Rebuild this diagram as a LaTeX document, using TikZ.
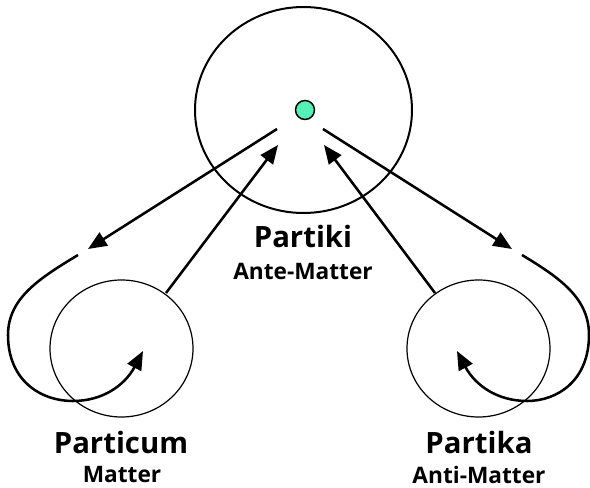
\documentclass[tikz,border=0pt]{standalone}
\usepackage{fontspec}
\setmainfont{Open Sans}
\usetikzlibrary{arrows.meta,shapes.geometric}
\definecolor{dotgreen}{HTML}{55F0B8}
\begin{document}
\begin{tikzpicture}[x=0.75pt,y=-0.75pt,
  bigc/.style={draw,line width=1.5pt,ellipse,minimum width=217*0.75pt,minimum height=206*0.75pt,inner sep=0},
  smallc/.style={draw,line width=0.9pt,ellipse,minimum width=143*0.75pt,minimum height=137*0.75pt,inner sep=0},
  arr/.style={line width=1.9pt,-{Triangle[length=14pt,width=11.5pt]}},
  title/.style={font=\bfseries\fontsize{22}{25}\selectfont,inner sep=0},
  sub/.style={font=\bfseries\fontsize{17}{20}\selectfont,inner sep=0}]
\useasboundingbox (0,0) rectangle (590,488);
\node[bigc] (big) at (303.5,110) {};
\node[circle,draw,line width=1.1pt,fill=dotgreen,minimum size=19*0.75pt,inner sep=0] (dot) at (305,110) {};
\node[smallc] (lm) at (121.5,348.5) {};
\node[smallc] (rm) at (478.5,348.5) {};
% coordinates
\coordinate (ls) at (277,129);
\coordinate (lt) at (88,249);
\coordinate (rs) at (323,129);
\coordinate (rt) at (512,249);
\coordinate (lcs) at (78,255);
\coordinate (lct) at (143,351);
\coordinate (rcs) at (522,255);
\coordinate (rct) at (457,351);
\coordinate (lus) at (166,293);
\coordinate (lut) at (278,145);
\coordinate (rus) at (435,293);
\coordinate (rut) at (324,145);
% arrows from centre outward
\draw[arr] (ls) -- (lt);
\draw[arr] (rs) -- (rt);
% arrows from small circles into centre
\draw[arr] (lus) -- (lut);
\draw[arr] (rus) -- (rut);
% loops
\draw[arr] (lcs) .. controls (40,278) and (8,298) .. (8,335)
  .. controls (8,380) and (40,401) .. (73,401)
  .. controls (103,401) and (125,385) .. (lct);
\draw[arr] (rcs) .. controls (560,278) and (589,298) .. (589,335)
  .. controls (589,380) and (558,401) .. (527,401)
  .. controls (497,401) and (475,385) .. (rct);
% labels
\node[title] (t1) at (303,237) {Partiki};
\node[sub] (s1) at (303,271) {Ante-Matter};
\node[title] (t2) at (121,443) {Particum};
\node[sub] (s2) at (122,475) {Matter};
\node[title] (t3) at (479,443) {Partika};
\node[sub] (s3) at (479,475) {Anti-Matter};
\end{tikzpicture}
\end{document}
